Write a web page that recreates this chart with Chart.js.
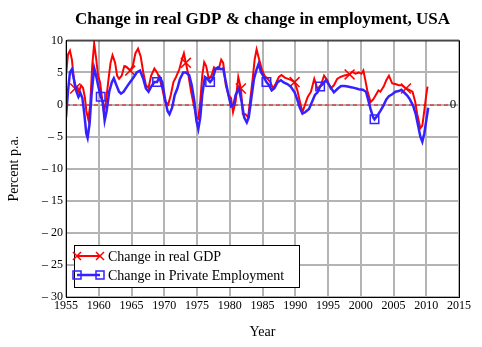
<!DOCTYPE html>
<html>
<head>
<meta charset="utf-8">
<script src="https://cdn.jsdelivr.net/npm/chart.js@4/dist/chart.umd.min.js"></script>
<style>
  body { margin: 0; background: #fff; }
  #wrap { width: 482px; height: 347px; }
</style>
</head>
<body>
<div id="wrap"><canvas id="gdp-chart" width="482" height="347"></canvas></div>
<script>
// year-on-year growth, percent p.a.
const gdpYears = [1955.0,1955.3,1955.6,1955.9,1956.2,1956.4,1956.7,1957.0,1957.3,1957.6,1957.9,1958.1,1958.4,1958.7,1959.0,1959.3,1959.6,1959.9,1960.2,1960.5,1960.8,1961.1,1961.5,1961.8,1962.1,1962.5,1962.8,1963.1,1963.5,1963.9,1964.3,1964.8,1965.2,1965.6,1966.0,1966.4,1966.8,1967.2,1967.6,1968.0,1968.5,1968.9,1969.3,1969.7,1970.1,1970.6,1971.0,1971.4,1971.8,1972.3,1972.7,1973.0,1973.3,1973.7,1974.1,1974.5,1974.9,1975.2,1975.5,1975.8,1976.1,1976.4,1976.8,1977.2,1977.6,1977.9,1978.3,1978.7,1979.0,1979.4,1979.8,1980.2,1980.5,1980.9,1981.3,1981.7,1982.0,1982.4,1982.8,1983.1,1983.5,1983.8,1984.1,1984.5,1984.9,1985.3,1985.8,1986.2,1986.6,1987.0,1987.5,1987.9,1988.4,1988.9,1989.4,1989.9,1990.3,1990.7,1991.1,1991.5,1991.9,1992.4,1992.9,1993.4,1993.9,1994.4,1994.9,1995.4,1995.9,1996.4,1996.9,1997.4,1997.8,1998.3,1998.7,1999.2,1999.7,2000.1,2000.4,2000.7,2001.0,2001.5,2001.9,2002.3,2002.7,2003.0,2003.5,2003.9,2004.3,2004.8,2005.3,2005.8,2006.3,2006.9,2007.4,2007.9,2008.3,2008.6,2009.1,2009.4,2009.7,2010.0,2010.2];
const gdpGrowth = [4.5,7.8,8.4,7.0,4.0,2.5,2.8,2.0,3.0,2.6,1.0,-1.0,-2.3,0.0,6.0,9.5,7.2,4.5,3.5,1.0,-1.2,0.5,4.0,6.5,7.7,6.5,4.5,4.0,4.5,6.0,5.8,5.3,6.0,8.0,8.7,7.5,5.0,3.0,2.6,4.5,5.6,5.0,4.0,2.5,0.5,0.0,1.5,3.5,4.3,5.5,7.0,8.0,6.5,4.5,2.0,0.0,-2.0,-2.2,0.5,4.5,6.6,6.0,4.0,4.5,5.8,5.5,5.5,7.0,6.5,3.0,1.5,1.0,-1.2,0.5,4.3,2.5,-1.5,-1.5,-2.0,0.5,4.0,7.0,8.6,7.0,5.5,4.5,4.0,3.5,2.5,3.2,4.3,4.6,4.2,4.0,3.8,3.5,2.3,0.5,-1.2,0.0,1.2,2.0,4.0,2.4,3.0,4.5,3.8,2.5,3.0,4.0,4.3,4.5,4.6,4.7,5.1,4.8,5.0,4.8,5.3,3.8,2.2,0.4,0.8,1.5,2.2,2.0,2.8,3.8,4.5,3.3,3.2,3.0,3.0,2.5,2.3,2.0,0.5,-1.4,-3.7,-3.3,-1.0,1.5,2.8];

const empYears = [1955.0,1955.3,1955.6,1955.9,1956.2,1956.6,1956.9,1957.2,1957.5,1957.8,1958.1,1958.3,1958.6,1958.9,1959.3,1959.6,1959.9,1960.3,1960.6,1960.9,1961.2,1961.6,1962.0,1962.3,1962.7,1963.1,1963.4,1963.8,1964.3,1964.8,1965.3,1965.8,1966.3,1966.8,1967.2,1967.6,1968.0,1968.5,1968.9,1969.3,1969.7,1970.1,1970.5,1970.8,1971.2,1971.6,1972.0,1972.4,1972.9,1973.3,1973.8,1974.2,1974.6,1974.9,1975.2,1975.5,1975.8,1976.2,1976.6,1977.0,1977.4,1977.8,1978.2,1978.6,1979.0,1979.4,1979.8,1980.2,1980.6,1980.9,1981.4,1981.8,1982.2,1982.6,1982.9,1983.3,1983.7,1984.1,1984.4,1984.8,1985.2,1985.6,1986.0,1986.4,1986.8,1987.3,1987.8,1988.3,1988.8,1989.3,1989.9,1990.3,1990.7,1991.1,1991.5,1992.1,1992.6,1993.0,1993.4,1993.8,1994.3,1994.7,1995.2,1995.9,1996.5,1997.0,1997.5,1998.0,1998.5,1999.0,1999.7,2000.3,2000.8,2001.2,2001.5,2001.9,2002.1,2002.5,2003.0,2003.4,2003.9,2004.3,2004.8,2005.3,2005.8,2006.2,2006.7,2007.1,2007.5,2008.0,2008.4,2008.8,2009.1,2009.4,2009.7,2010.0,2010.3];
const empGrowth = [-2.0,2.0,5.0,5.5,4.0,2.0,1.2,1.8,1.0,-1.5,-4.5,-5.2,-3.0,1.5,5.7,4.5,3.0,1.2,0.5,-2.5,-1.0,2.0,3.5,4.1,3.0,2.0,1.7,2.0,2.8,3.5,4.2,5.0,5.3,4.0,2.5,2.0,2.8,3.5,3.5,4.3,3.5,1.0,-1.0,-1.5,-0.5,1.5,2.5,4.0,5.0,5.0,4.6,3.0,0.5,-2.5,-3.8,-2.0,1.5,4.3,4.0,3.5,4.0,5.5,5.8,5.5,5.6,3.5,1.5,-0.3,0.0,1.5,2.5,0.5,-2.0,-2.8,-2.0,1.0,4.0,5.5,6.3,5.0,4.3,3.5,3.0,2.2,2.5,3.5,3.8,3.4,3.2,2.8,1.9,0.8,-0.5,-1.4,-1.2,-0.7,0.5,1.5,1.9,2.8,3.3,3.8,3.0,1.9,2.5,2.9,2.9,2.8,2.7,2.6,2.4,2.3,2.0,0.5,-0.7,-2.0,-2.3,-1.8,-1.0,-0.3,0.8,1.3,1.6,2.0,2.1,2.3,1.8,1.4,0.8,-0.2,-1.5,-3.5,-5.0,-5.8,-4.5,-2.5,-0.5];

const xTicks = { min: 1955, max: 2015, step: 5 };
const yTicks = { min: -30, max: 10, step: 5 };

const seriesNames = ['Change in real GDP', 'Change in Private Employment'];

const serif = "'Liberation Serif', 'DejaVu Serif', serif";
const red = '#ff0000';
const blue = '#3322ff';

// markers sit on every ~8.4 years of each trace
function markerRadii(years, first, step, r) {
  const radii = years.map(() => 0);
  for (let t = first; t <= years[years.length - 1]; t += step) {
    let best = 0;
    years.forEach((y, i) => { if (Math.abs(y - t) < Math.abs(years[best] - t)) best = i; });
    radii[best] = r;
  }
  return radii;
}

function toPoints(xs, ys) {
  return xs.map((x, i) => ({ x: x, y: ys[i] }));
}

function minusLabel(v) {
  return v < 0 ? '\u2013 ' + (-v) : String(v);
}

// dashed zero reference line with its label, plus the frame round the plot
const framePlugin = {
  id: 'frame',
  beforeDatasetsDraw(chart) {
    const { ctx, chartArea: a, scales } = chart;
    const y0 = scales.y.getPixelForValue(0);
    ctx.save();
    ctx.strokeStyle = red;
    ctx.lineWidth = 1;
    ctx.setLineDash([4, 3]);
    ctx.beginPath();
    ctx.moveTo(a.left, y0 + 0.5);
    ctx.lineTo(a.right - 10, y0 + 0.5);
    ctx.stroke();
    ctx.setLineDash([]);
    ctx.fillStyle = '#000';
    ctx.font = '13px ' + serif;
    ctx.textAlign = 'center';
    ctx.textBaseline = 'middle';
    ctx.fillText('0', a.right - 6, y0);
    ctx.restore();
  },
  afterDraw(chart) {
    const { ctx, chartArea: a } = chart;
    ctx.save();
    ctx.strokeStyle = '#000';
    ctx.lineWidth = 1;
    ctx.strokeRect(a.left + 0.5, a.top + 0.5, a.right - a.left, a.bottom - a.top);
    ctx.restore();
  }
};

// boxed legend with a line sample and a marker at each end
const boxLegend = {
  id: 'boxLegend',
  afterDraw(chart) {
    const { ctx, chartArea: a } = chart;
    const left = a.left + 8, top = a.bottom - 52, w = 225, h = 42;
    ctx.save();
    ctx.fillStyle = '#fff';
    ctx.fillRect(left, top, w, h);
    ctx.strokeStyle = '#000';
    ctx.lineWidth = 1;
    ctx.strokeRect(left + 0.5, top + 0.5, w, h);
    ctx.font = '14px ' + serif;
    ctx.textBaseline = 'middle';
    chart.data.datasets.forEach((ds, i) => {
      const y = top + 11 + i * 19;
      const x1 = left + 3, x2 = left + 26;
      ctx.strokeStyle = ds.borderColor;
      ctx.lineWidth = ds.borderWidth;
      ctx.beginPath();
      ctx.moveTo(x1, y);
      ctx.lineTo(x2, y);
      ctx.stroke();
      ctx.lineWidth = 1.5;
      [x1, x2].forEach(x => {
        ctx.beginPath();
        if (ds.pointStyle === 'crossRot') {
          ctx.moveTo(x - 4, y - 4); ctx.lineTo(x + 4, y + 4);
          ctx.moveTo(x - 4, y + 4); ctx.lineTo(x + 4, y - 4);
        } else {
          ctx.rect(x - 4, y - 4, 8, 8);
        }
        ctx.stroke();
      });
      ctx.fillStyle = '#000';
      ctx.fillText(ds.label, left + 34, y + 1);
    });
    ctx.restore();
  }
};

new Chart(document.getElementById('gdp-chart'), {
  type: 'line',
  data: {
    datasets: [{
      label: seriesNames[0],
      data: toPoints(gdpYears, gdpGrowth),
      borderColor: red,
      borderWidth: 2,
      pointStyle: 'crossRot',
      pointRadius: markerRadii(gdpYears, 1956.4, 8.4, 7),
      pointBorderColor: red,
      pointBorderWidth: 1.5,
      pointBackgroundColor: 'transparent',
      tension: 0,
      order: 1
    }, {
      label: seriesNames[1],
      data: toPoints(empYears, empGrowth),
      borderColor: blue,
      borderWidth: 2.5,
      pointStyle: 'rect',
      pointRadius: markerRadii(empYears, 1960.4, 8.35, 6),
      pointBorderColor: blue,
      pointBorderWidth: 1.5,
      pointBackgroundColor: 'transparent',
      tension: 0,
      order: 0
    }]
  },
  options: {
    responsive: false,
    animation: false,
    layout: { padding: { top: 0, right: 23, bottom: 0, left: 0 } },
    plugins: {
      legend: { display: false },
      tooltip: { enabled: false },
      title: {
        display: true,
        fullSize: false,
        text: 'Change in real GDP & change in employment, USA',
        color: '#000',
        font: { family: serif, size: 17, weight: 'bold' },
        padding: { top: 9, bottom: 11 }
      }
    },
    scales: {
      x: {
        type: 'linear',
        min: xTicks.min,
        max: xTicks.max,
        afterFit(scale) { scale.height = 50; },
        ticks: {
          stepSize: xTicks.step,
          color: '#000',
          padding: 2,
          maxRotation: 0,
          font: { family: serif, size: 12 },
          callback: v => String(v)
        },
        grid: { color: '#b4b4b4', lineWidth: 2, drawTicks: false },
        border: { color: '#000', width: 1 },
        title: {
          display: true,
          text: 'Year',
          color: '#000',
          font: { family: serif, size: 14 },
          padding: { top: 6, bottom: 6 }
        }
      },
      y: {
        min: yTicks.min,
        max: yTicks.max,
        afterFit(scale) { scale.width = 66; },
        ticks: {
          stepSize: yTicks.step,
          color: '#000',
          padding: 3,
          font: { family: serif, size: 12 },
          callback: minusLabel
        },
        grid: { color: '#b4b4b4', lineWidth: 2, drawTicks: false },
        border: { color: '#000', width: 1 },
        title: {
          display: true,
          text: 'Percent p.a.',
          color: '#000',
          font: { family: serif, size: 14 },
          padding: 6
        }
      }
    }
  },
  plugins: [framePlugin, boxLegend]
});
</script>
</body>
</html>
